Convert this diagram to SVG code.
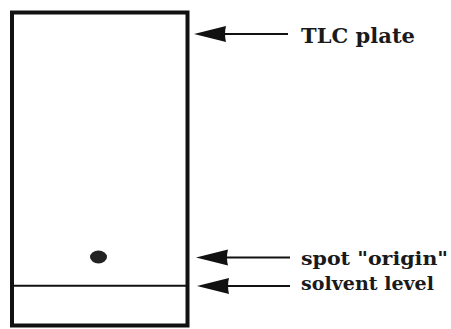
<svg xmlns="http://www.w3.org/2000/svg" width="451" height="329" viewBox="0 0 451 329">
<style>
.lbl{font-family:"DejaVu Serif","Liberation Serif",serif;font-weight:bold;fill:#1a1a1a;}
.ln{stroke:#111;stroke-width:2;fill:none;}
.head{fill:#111;}
</style>
<defs>
<path id="ah" d="M0,0 L32,-8 Q30,0 32,8 Z"/>
</defs>
<rect width="451" height="329" fill="#fff"/>
<g id="plate">
<rect x="12" y="12.5" width="175.5" height="313" fill="#fff" stroke="#111" stroke-width="4"/>
<line x1="13" y1="285.7" x2="186" y2="285.7" stroke="#111" stroke-width="2"/>
</g>
<g id="spot">
<ellipse cx="98.5" cy="257" rx="8.5" ry="6.5" fill="#222"/>
</g>
<g id="connectors">
<line class="ln" x1="222" y1="34" x2="288" y2="34"/>
<use href="#ah" class="head" x="194" y="34"/>
<line class="ln" x1="224" y1="257.5" x2="290" y2="257.5"/>
<use href="#ah" class="head" x="196" y="257.5"/>
<line class="ln" x1="225" y1="286" x2="290" y2="286"/>
<use href="#ah" class="head" x="197" y="286"/>
</g>
<g id="label-tlc"><text class="lbl" x="301" y="42.7" font-size="20" textLength="114" lengthAdjust="spacingAndGlyphs">TLC plate</text></g>
<g id="label-spot"><text class="lbl" x="301" y="265" font-size="18" textLength="147" lengthAdjust="spacingAndGlyphs">spot "origin"</text></g>
<g id="label-solvent"><text class="lbl" x="301" y="290" font-size="18" textLength="133" lengthAdjust="spacingAndGlyphs">solvent level</text></g>
</svg>
